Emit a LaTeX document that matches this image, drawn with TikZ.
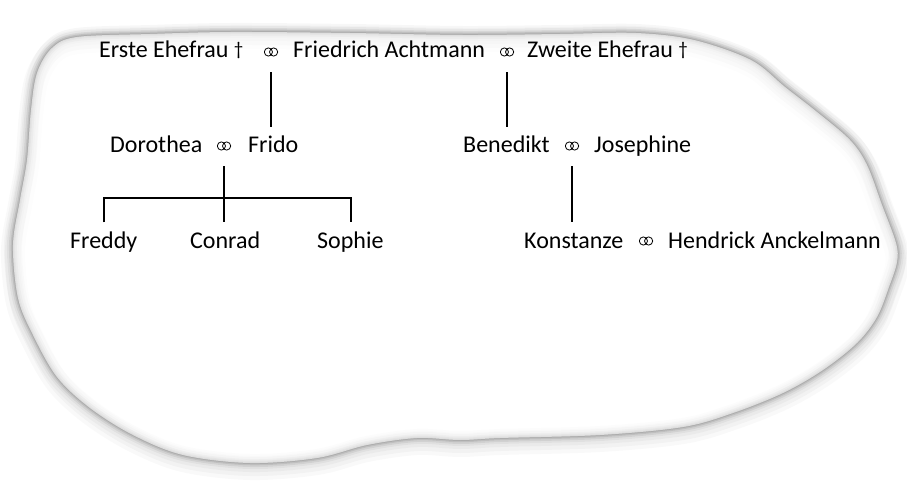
\documentclass[tikz,border=0pt]{standalone}
\usepackage{fontspec}
\setmainfont{Carlito}
\usepackage{tikz}
\usetikzlibrary{calc}
\usepackage{xcolor}
\definecolor{inkblack}{RGB}{0,0,0}
\definecolor{blobshade}{RGB}{100,100,100}

\begin{document}
\begin{tikzpicture}[
    x=1pt, y=-1pt,
    person/.style={anchor=west, inner xsep=0pt, inner ysep=8.5pt, text height=17pt, text depth=6pt,
                   font=\fontsize{24pt}{28pt}\selectfont, text=inkblack},
    ehe/.style={minimum width=14pt, minimum height=40pt, inner sep=0pt,
                path picture={
                  \draw[line width=0.8pt, inkblack]
                    ([xshift=-2.6pt]path picture bounding box.center) circle (4.1pt)
                    ([xshift=2.6pt]path picture bounding box.center) circle (4.1pt);}},
    kid/.style={line width=1.6pt, inkblack}
]
\useasboundingbox (0,0) rectangle (907,481);

% Blob background with soft grey rim
\def\blob{plot[smooth cycle, tension=0.55] coordinates {
      (77,37) (150,34) (231,32) (350,33) (462,35) (560,34) (636,33) (694,40)
      (751,60) (785,87) (817,112) (850,140) (867,165) (882,205) (896,243)
      (897,262) (889,287) (877,317) (857,343) (823,370) (783,393) (733,413)
      (683,427) (600,435) (500,438) (460,440) (417,438) (367,445) (317,458)
      (250,463) (183,455) (133,435) (90,408) (57,377) (33,335) (18,298)
      (13,245) (20,200) (27,160) (31,110) (37,73) (52,48)}}
\foreach \w/\o in {24/0.04, 16/0.05} {
  \draw[yshift=-5pt, line width=\w pt, blobshade, draw opacity=\o] \blob;
}
\foreach \w/\o in {18/0.05, 12/0.08, 8/0.12, 4.5/0.16, 2/0.2} {
  \draw[line width=\w pt, blobshade, draw opacity=\o] \blob;
}
\fill[white, opacity=0.6] \blob;

% Generation 1
\node[person] (erste)  at (99,52.5)  {Erste Ehefrau \raisebox{2pt}{\fontsize{19pt}{20pt}\selectfont †}};
\node[ehe]    (eheA)   at (271,52) {};
\node[person] (fried)  at (293,52.5) {Friedrich Achtmann};
\node[ehe]    (eheB)   at (507,52) {};
\node[person] (zweite) at (527,52.5) {Zweite Ehefrau \raisebox{2pt}{\fontsize{19pt}{20pt}\selectfont †}};

% Generation 2
\node[person] (doro)   at (110,147.5) {Dorothea};
\node[ehe]    (eheC)   at (224,146) {};
\node[person] (frido)  at (248,147.5) {Frido};
\node[person] (bene)   at (463,147.5) {Benedikt};
\node[ehe]    (eheD)   at (572,146) {};
\node[person] (jose)   at (594,147.5) {Josephine};

% Generation 3
\node[person] (freddy) at (70,242.5)  {Freddy};
\node[person] (conrad) at (190,242.5) {Conrad};
\node[person] (sophie) at (317,242.5) {Sophie};
\node[person] (konst)  at (524,242.5) {Konstanze};
\node[ehe]    (eheE)   at (646,241) {};
\node[person] (hend)   at (668,242.5) {Hendrick Anckelmann};

% Descent lines
\coordinate (bus) at (224,198);
\draw[kid] (eheA.south) -- (eheA.south |- frido.north);
\draw[kid] (eheB.south) -- (eheB.south |- bene.north);
\draw[kid] (eheC.south) -- (eheC.south |- conrad.north);
\draw[kid] ([xshift=34pt]freddy.north west) |- ([xshift=34pt]sophie.north west |- bus)
           -- ([xshift=34pt]sophie.north west);
\draw[kid] (eheD.south) -- (eheD.south |- konst.north);
\end{tikzpicture}
\end{document}
